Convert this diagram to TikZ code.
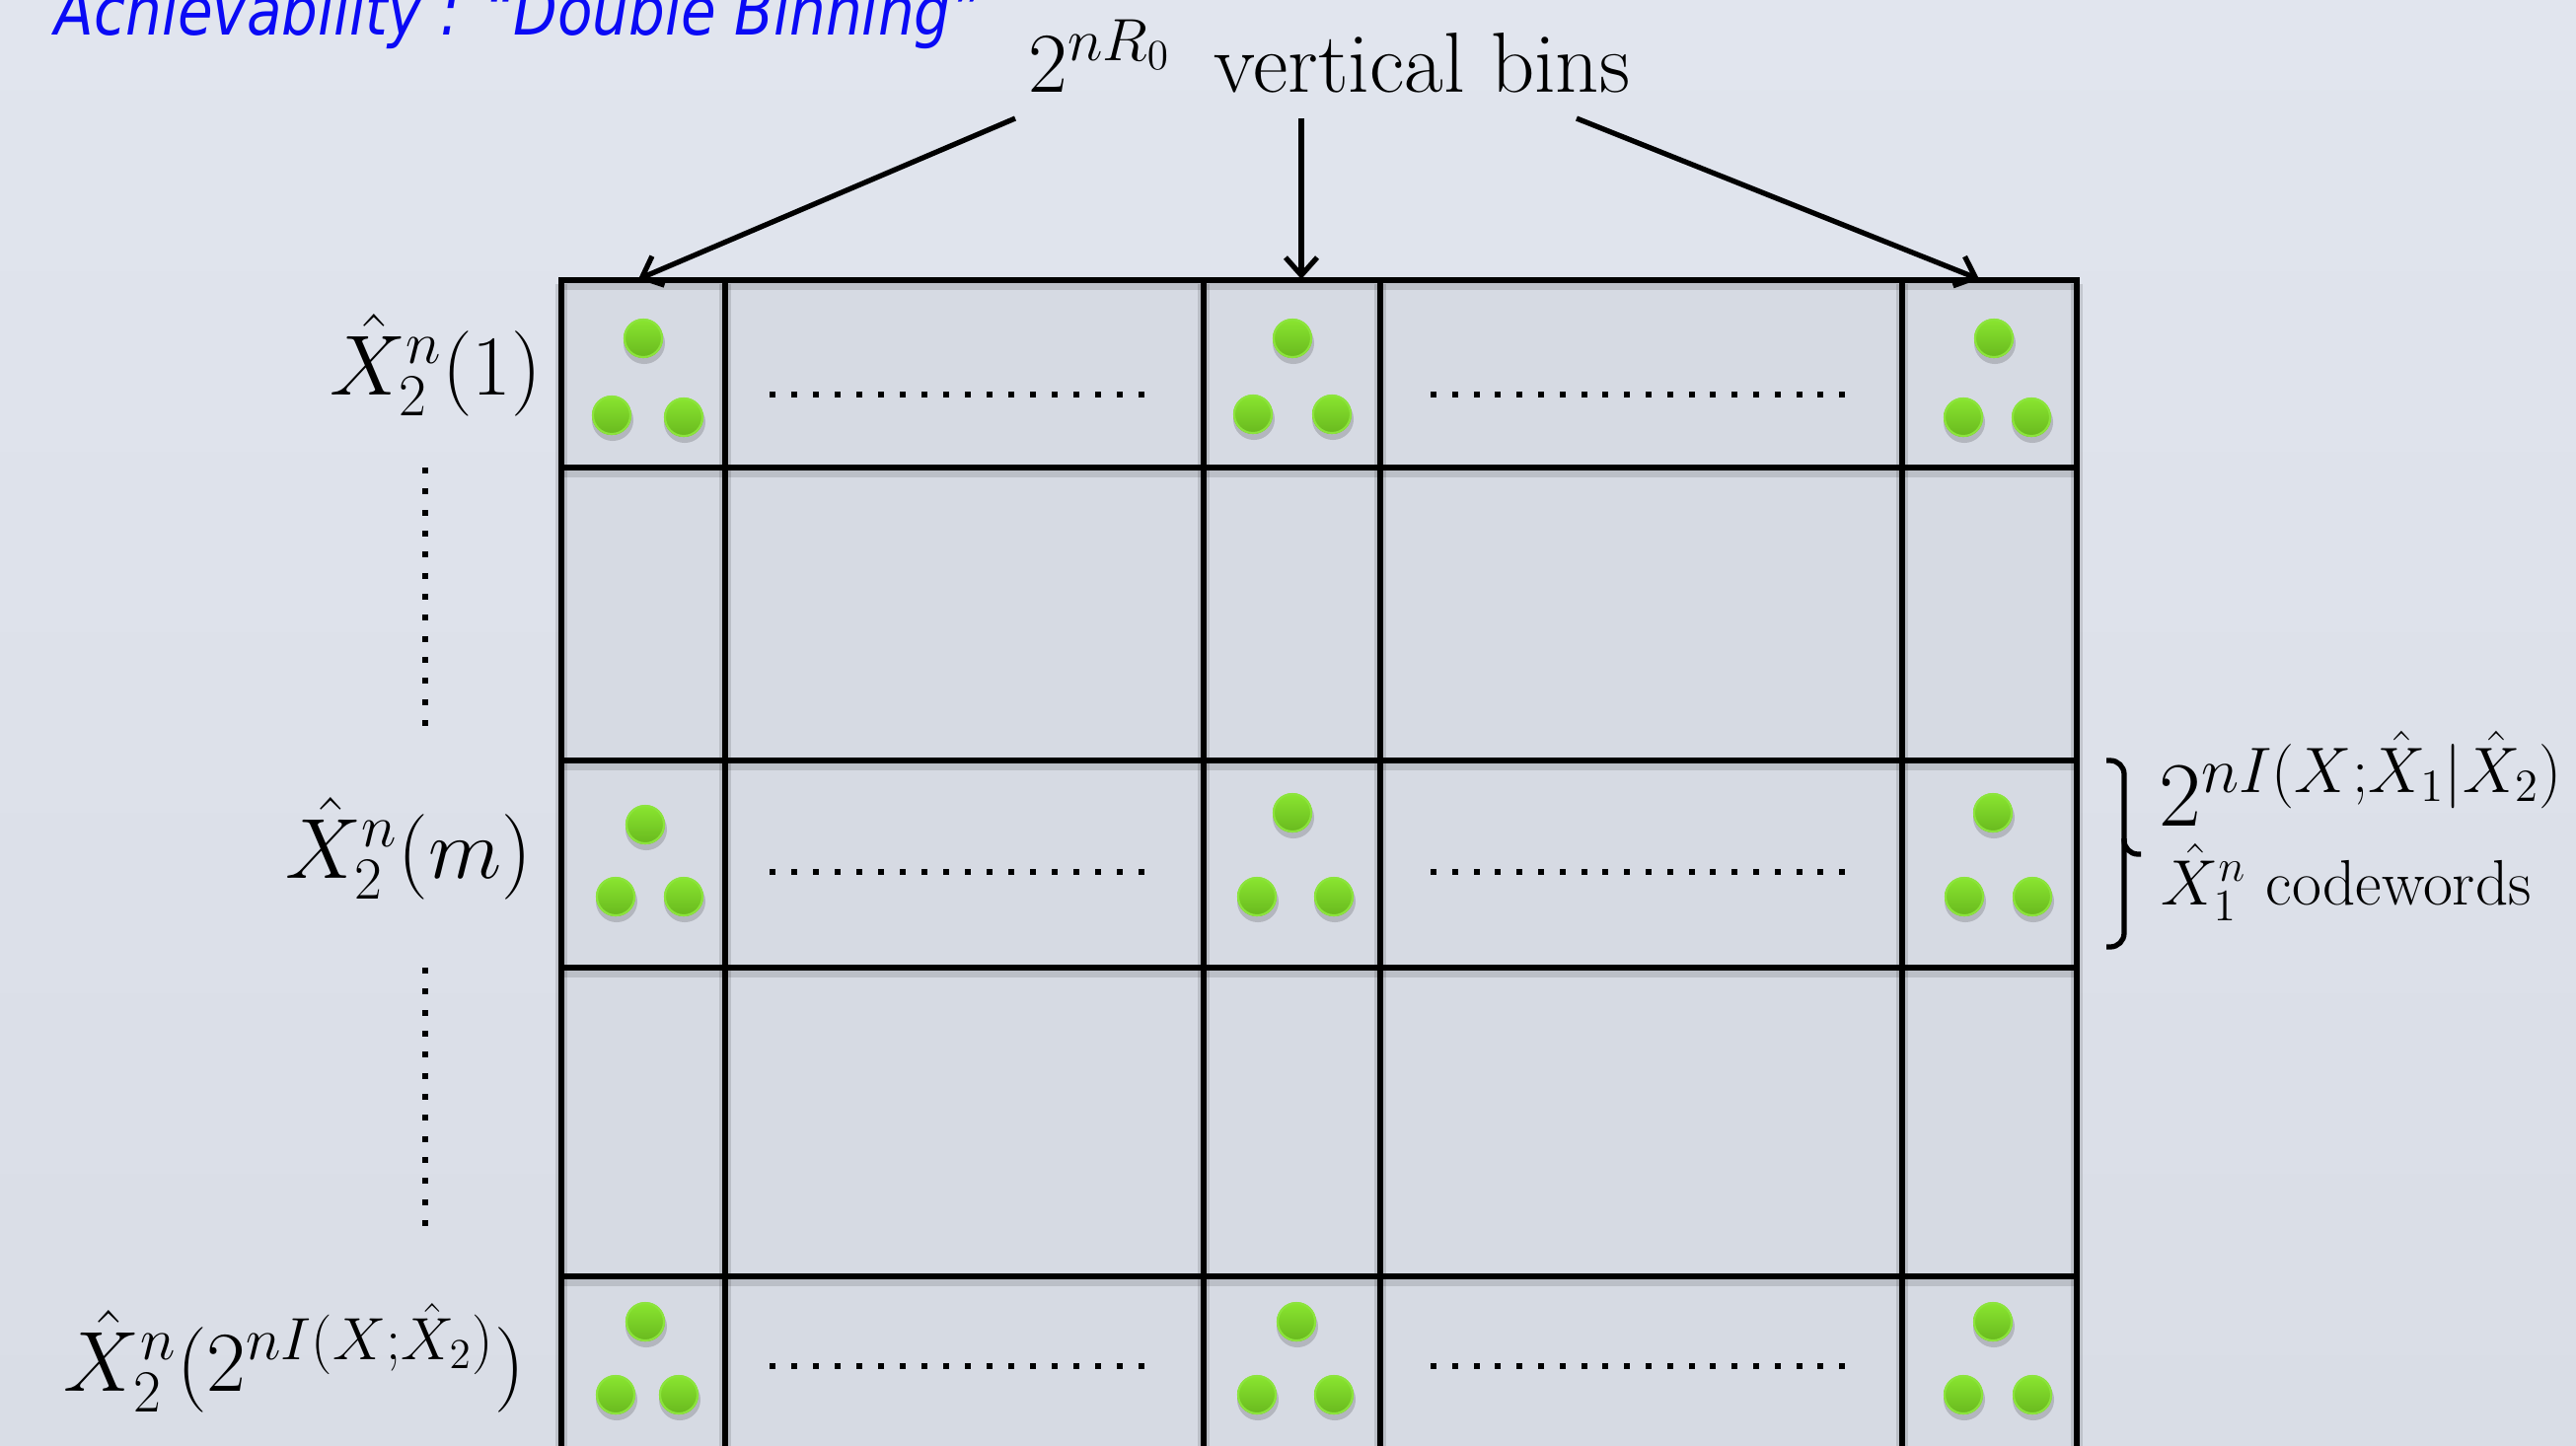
\RequirePackage{fix-cm}
\documentclass[tikz,border=0pt]{standalone}
\usepackage{fontspec}
\newfontfamily\titlefont[FakeStretch=0.85]{DejaVu Sans}
\usetikzlibrary{arrows.meta}
\definecolor{bgtop}{RGB}{225,229,238}
\definecolor{bgbot}{RGB}{217,221,230}
\definecolor{cellfill}{RGB}{214,218,227}
\definecolor{dottop}{RGB}{138,230,48}
\definecolor{dotbot}{RGB}{104,184,30}
\definecolor{dotrim}{RGB}{140,228,60}
\definecolor{titleblue}{RGB}{10,10,245}
\tikzset{
  gridline/.style={line width=1.5pt, line cap=rect},
  gridshadow/.style={line width=3.5pt, black, opacity=0.12},
  arr/.style={line width=1.5pt, -{Straight Barb[length=0.18cm,width=0.32cm]}},
  lbl/.style={inner sep=0pt, font=\fontsize{24.6}{29}\selectfont},
  sqdot/.style={fill=black},
  gdot/.pic={
    \fill[black,opacity=0.16] (1,5) circle[radius=0.21cm];
    \shade[top color=dottop,bottom color=dotbot] (0,0) circle[radius=0.2cm];
    \draw[dotrim, line width=0.6pt] (0,0) circle[radius=0.19cm];
  }
}
\begin{document}
\begin{tikzpicture}[x=0.01cm,y=-0.01cm]
\useasboundingbox (0,0) rectangle (2611,1465);
\clip (0,0) rectangle (2611,1465);
\shade[top color=bgtop,bottom color=bgbot] (0,0) rectangle (2611,1465);

% title
\node[anchor=base west, inner sep=0pt, text=titleblue,
      font=\titlefont\itshape\fontsize{19.4}{23}\selectfont] (title) at (55,35)
      {Achievability : “Double Binning”};

% grid
\fill[cellfill] (569,284) rectangle (2105,1470);
\begin{scope}[yshift=-0.035cm]
\foreach \x in {569,735,1220,1399,1928,2105}
  \draw[gridshadow] (\x,284) -- (\x,1470);
\foreach \y in {284,474,771,981,1294}
  \draw[gridshadow] (569,\y) -- (2105,\y);
\end{scope}
\foreach \x in {569,735,1220,1399,1928,2105}
  \draw[gridline] (\x,284) -- (\x,1470);
\foreach \y in {284,474,771,981,1294}
  \draw[gridline] (569,\y) -- (2105,\y);

% green dots
\foreach \p/\q in {652/343,620/421,693/423, 1310/343,1270/420,1350/420, 2021/343,1990/423,2059/423,
                   654/836,624/909,693/909, 1310/824,1274/909,1352/909, 2020/824,1991/909,2060/909,
                   654/1340,624/1414,688/1414, 1314/1340,1274/1414,1352/1414, 2020/1340,1990/1414,2060/1414}
  \pic at (\p,\q) {gdot};

% horizontal dotted rows
\foreach \y in {400,884,1385}{
  \foreach \i in {0,...,17}
    \fill[sqdot] ({783+22*\i-3},\y-3) rectangle ({783+22*\i+3},\y+3);
  \foreach \i in {0,...,19}
    \fill[sqdot] ({1453+21.8*\i-3},\y-3) rectangle ({1453+21.8*\i+3},\y+3);
}
% vertical dotted columns
\foreach \s in {477,984}
  \foreach \i in {0,...,12}
    \fill[sqdot] (428,{\s+21.33*\i-3}) rectangle (434,{\s+21.33*\i+3});

% row labels
\node[lbl, anchor=base east] (r1) at (550,400) {$\hat X_2^n(1)$};
\node[lbl, anchor=base east] (rm) at (540,890) {$\hat X_2^n(m)$};
\node[lbl, anchor=base east] (rN) at (533,1410) {$\hat X_2^n\bigl(2^{nI(X;\hat X_2)}\bigr)$};

% top label and arrows
\node[lbl, anchor=base west] (top) at (1042,93) {$2^{nR_0}$\hspace{0.5em}vertical bins};
\coordinate (a1) at (1029,120);
\coordinate (a2) at (1319,120);
\coordinate (a3) at (1598,120);
\coordinate (t1) at (647,283);
\coordinate (t2) at (1319,283);
\coordinate (t3) at (2006,283);
\draw[arr] (a1) -- (t1);
\draw[arr] (a2) -- (t2);
\draw[arr] (a3) -- (t3);

% brace
\draw[line width=1.5pt, rounded corners=4] (2135,771) -- (2153,771) -- (2153,960) -- (2135,960);
\draw[line width=1.5pt, rounded corners=4] (2153,850) -- (2153,866) -- (2170,866);
\node[anchor=base west, inner sep=0pt, font=\fontsize{26.5}{31}\selectfont] (bt1) at (2188,837)
  {$2^{nI(X;\hat X_1|\hat X_2)}$};
\node[anchor=base west, inner sep=0pt, font=\fontsize{18.5}{22}\selectfont] (bt2) at (2190,917)
  {$\hat X_1^n$ codewords};
\end{tikzpicture}
\end{document}
